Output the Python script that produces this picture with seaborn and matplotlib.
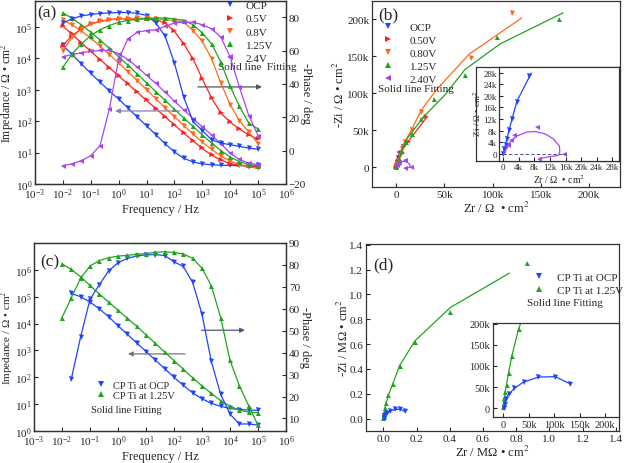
import numpy as np
import matplotlib
matplotlib.use('Agg')
import matplotlib.pyplot as plt
from matplotlib.lines import Line2D
import seaborn as sns

sns.set_style('ticks')
plt.rcParams['font.family'] = ['Liberation Serif', 'DejaVu Serif']
plt.rcParams['mathtext.fontset'] = 'stix'

BLUE, RED, ORANGE, GREEN, PURPLE = '#1f44ff', '#ff1f1f', '#ff6a1a', '#1fa51f', '#a845f0'
MS, LW = 3.6, 0.9
TICK_FS, LABEL_FS, LEG_FS = 8, 9, 8

# ---------------- data ----------------
# frequency grid of the Bode plots (Hz)
freq = [0.01, 0.0215, 0.0464, 0.1, 0.215, 0.464, 1, 2.15, 4.64, 10, 21.5, 46.4,
        100, 215, 464, 1000, 2150, 4640, 10000, 21500, 46400, 100000]
decades = [1e-3, 1e-2, 1e-1, 1e0, 1e1, 1e2, 1e3, 1e4, 1e5, 1e6]

# panel (a): log10 |Z| (ohm cm2) and -phase (deg)
a_ocp_logz = [4.42, 4.12, 3.82, 3.52, 3.24, 2.96, 2.70, 2.42, 2.13, 1.85, 1.57, 1.28,
              1.02, 0.82, 0.70, 0.64, 0.61, 0.60, 0.59, 0.59, 0.59, 0.59]
a_ocp_phase = [76.6, 79, 80.8, 81.6, 82.2, 82.6, 82.8, 82.8, 82.3, 81, 76.5, 68.5,
               52.5, 32, 17.5, 12, 6.5, 4.5, 3.6, 2.5, 1.5, 0.8]
a_05_logz = [5.02, 4.76, 4.49, 4.22, 3.96, 3.70, 3.44, 3.18, 2.92, 2.66, 2.40, 2.14,
             1.88, 1.62, 1.37, 1.13, 0.92, 0.76, 0.65, 0.59, 0.56, 0.55]
a_05_phase = [63, 69, 73, 76, 77.5, 78.5, 79, 79, 79, 79, 78.5, 76.5,
              71.5, 64, 55, 43, 31.5, 22.5, 17, 12.8, 9.5, 6.7]
a_08_logz = [5.22, 5.06, 4.87, 4.64, 4.39, 4.12, 3.85, 3.57, 3.29, 3.00, 2.71, 2.42,
             2.14, 1.86, 1.59, 1.33, 1.10, 0.89, 0.73, 0.62, 0.55, 0.50]
a_08_phase = [60, 68, 73, 76, 77.5, 78.5, 79, 79.2, 79.3, 79.3, 79, 78.5,
              78, 77, 72, 65.5, 55, 40.5, 27.5, 18, 11, 4.2]
a_125_logz = [5.45, 5.27, 5.06, 4.83, 4.58, 4.32, 4.05, 3.78, 3.50, 3.22, 2.94, 2.66,
              2.38, 2.10, 1.83, 1.56, 1.30, 1.06, 0.86, 0.71, 0.62, 0.57]
a_125_phase = [50, 58, 64, 69, 72.5, 75, 77, 78, 78.8, 79.3, 79.5, 79.5,
               79, 78, 75.5, 70.5, 64, 53, 38.5, 26.5, 16.5, 13]
a_24_logz = [4.05, 4.12, 4.18, 4.22, 4.25, 4.25, 4.15, 3.96, 3.72, 3.46, 3.20, 2.92,
             2.64, 2.36, 2.08, 1.82, 1.56, 1.28, 0.98, 0.78, 0.66, 0.62]
a_24_phase = [-9, -8, -6, -3, 3, 25, 55, 67, 71, 72, 72.5, 74.5,
              76.5, 77, 77, 75.5, 73, 68, 56, 38, 21, 9]
a_labels = ['OCP', '0.5V', '0.8V', '1.25V', '2.4V']

# panel (b): Nyquist, kOhm cm2 (markers and fitted lines)
b_ocp_zr = [0, 0.3, 0.7, 1.0, 1.5, 2.3, 3.4, 6.7]
b_ocp_zi = [0, 1.7, 3.1, 5.2, 8.1, 12.1, 17.9, 26.9]
b_ocp_fit_zr = [0, 1.5, 3.5, 7.2]
b_ocp_fit_zi = [0, 8.3, 18.2, 27.9]
b_05_zr = [0, 0.5, 2, 5.5, 12, 31.4]
b_05_zi = [0, 2, 8, 19, 33.8, 67.6]
b_05_fit_zr = [0, 5, 12, 31]
b_05_fit_zi = [0, 20, 33.8, 66]
b_08_zr = [0, 0.3, 1, 2, 3.5, 6, 9, 16, 26, 77.6, 120]
b_08_zi = [0, 1, 4, 8, 15, 24, 33.8, 50.5, 74, 147, 208]
b_08_fit_zr = [0, 6.9, 16.2, 25.9, 42, 75.9, 130.3]
b_08_fit_zi = [0, 29, 51, 76.6, 105, 153, 201.8]
b_125_zr = [0, 0.2, 1, 3, 6, 10, 16, 26.2, 39.7, 71.4, 105, 169]
b_125_zi = [0, 1, 4, 11, 22, 33.8, 45, 65.3, 92.3, 124.8, 175.7, 200]
b_125_fit_zr = [0, 10, 27.6, 50, 71.4, 108, 173]
b_125_fit_zi = [0, 36, 66.7, 96.8, 132, 166.7, 208.6]
b_24_zr = [1.2, 2.1, 2.8, 8.7, 15.6, 9.2]
b_24_zi = [2.9, 4.8, 6.6, 9.4, 0, -1.7]
b_24_fit_zr = [0, 0.44, 1.7, 3.4, 6.0, 8.1, 10.7, 12.8, 14.4, 14.5, 14.1, 12.4, 10.3, 9.4]
b_24_fit_zi = [0, 0.58, 4.0, 6.1, 7.5, 7.7, 6.9, 5.2, 2.7, 0.6, -0.6, -0.9, -1.4, -1.5]
b_labels = ['OCP', '0.50V', '0.80V', '1.25V', '2.40V']
b_ticks = [0, 50, 100, 150, 200]
b_tick_labels = ['0', '50k', '100k', '150k', '200k']
b_inset_ticks = [0, 4, 8, 12, 16, 20, 24, 28]
b_inset_tick_labels = ['0', '4k', '8k', '12k', '16k', '20k', '24k', '28k']

# panel (c): log10 |Z| and -phase for CP Ti
c_ocp_logz = [np.nan, 5.12, 5.00, 4.80, 4.55, 4.25, 3.92, 3.60, 3.28, 2.96, 2.64, 2.32,
              2.00, 1.70, 1.42, 1.20, 1.03, 0.92, 0.84, 0.80, 0.78, 0.77]
c_ocp_phase = [np.nan, 28, 47.3, 64.3, 71, 77.3, 81, 83, 84.1, 84.6, 84.7, 84.3,
               81.4, 79.3, 72, 57.5, 36, 21, 12, 7.5, 7.5, 7]
c_125_logz = [6.22, 6.02, 5.74, 5.42, 5.10, 4.80, 4.50, 4.20, 3.90, 3.58, 3.26, 2.94,
              2.62, 2.30, 1.98, 1.68, 1.40, 1.13, 0.92, 0.78, 0.70, 0.68]
c_125_phase = [56, 65, 74, 79.5, 82, 83.3, 84, 84.4, 84.8, 85.2, 85.8, 86,
               85.7, 85, 83, 78.5, 70.5, 56, 36.5, 25, 15.8, 7]
c_labels = ['CP Ti at OCP', 'CP Ti at 1.25V']

# panel (d): Nyquist, kOhm cm2
d_ocp_zr = [0.7, 3, 5.2, 10.5, 21.6, 40, 69, 102, 131]
d_ocp_zi = [0.8, 8.7, 20.6, 32.5, 46.8, 62, 73.8, 74.6, 58]
d_125_zr = [0, 0.7, 2, 3.9, 7.2, 10.5, 17, 30, 56, 97, 191, 404, 865]
d_125_zi = [3, 12.7, 24.6, 38, 56, 84, 124, 187, 277, 425, 618, 855, 1253]
d_125_fit_zr = [0, 3.9, 10.5, 17, 30, 56, 97, 190, 404, 760]
d_125_fit_zi = [0, 38, 84, 124, 187, 277, 425, 626, 895, 1172]
d_ticks = [0.0, 0.2, 0.4, 0.6, 0.8, 1.0, 1.2, 1.4]
d_inset_ticks = [0, 50, 100, 150, 200]
d_inset_tick_labels = ['0', '50k', '100k', '150k', '200k']

# ---------------- helpers ----------------
def curve(ax, x, y, color, marker=None, line=True, ms=MS):
    sns.lineplot(x=x, y=y, ax=ax, color=color, marker=marker, markersize=ms,
                 markeredgewidth=0, linewidth=LW if line else 0,
                 estimator=None, sort=False)


def style(ax, size=TICK_FS, pad=2):
    ax.tick_params(direction='in', length=3, width=0.8, labelsize=size, pad=pad)
    for s in ax.spines.values():
        s.set_linewidth(0.9)
        s.set_color('#333333')


def ylabel(ax, text, xpos, size=LABEL_FS, rotation=90):
    # label centred at an axes-fraction x position
    ax.set_ylabel(text, fontsize=size, rotation=rotation, va='center', ha='center')
    ax.yaxis.set_label_coords(xpos, 0.5)


def handle(color, marker):
    return Line2D([], [], color=color, marker=marker, linestyle='none',
                  markersize=4.5, markeredgewidth=0)


def arrow(ax, x0, x1, y, color):
    ax.annotate('', xy=(x1, y), xytext=(x0, y), xycoords='axes fraction',
                arrowprops=dict(arrowstyle='-|>', color=color, lw=0.9,
                                mutation_scale=7, shrinkA=0, shrinkB=0))


def legend(ax, handles, labels, anchor, size=LEG_FS, textpad=0.9, spacing=0.3):
    ax.legend(handles, labels, loc='upper left', bbox_to_anchor=anchor, frameon=False,
              fontsize=size, borderpad=0, handlelength=1.0, handletextpad=textpad,
              labelspacing=spacing, borderaxespad=0)


fig = plt.figure(figsize=(6.26, 4.64), dpi=100)
W, H = 626, 464


def box(x0, x1, y0, y1):
    return [x0 / W, 1 - y1 / H, (x1 - x0) / W, (y1 - y0) / H]

# ---------------- (a) ----------------
ax_a = fig.add_axes(box(35, 286, 1.5, 185))
ax_ap = ax_a.twinx()
series_a = [(a_ocp_logz, a_ocp_phase, BLUE, 'v'), (a_05_logz, a_05_phase, RED, '>'),
            (a_08_logz, a_08_phase, ORANGE, 'v'), (a_125_logz, a_125_phase, GREEN, '^'),
            (a_24_logz, a_24_phase, PURPLE, '<')]
for logz, ph, c, m in series_a:
    curve(ax_a, freq, [10 ** v for v in logz], c, m)
    curve(ax_ap, freq, ph, c, m)
ax_a.set_xscale('log')
ax_a.set_yscale('log')
ax_a.set_xlim(1e-3, 1e6)
ax_a.set_ylim(1, 10 ** 5.84)
ax_a.set_xticks(decades)
ax_a.set_yticks(decades[3:9])
ax_ap.set_ylim(-20, 90)
ax_ap.set_yticks([-20, 0, 20, 40, 60, 80])
ax_a.minorticks_off()
ax_ap.minorticks_off()
ax_a.set_xlabel('Frequency / Hz', fontsize=LABEL_FS, labelpad=1)
ylabel(ax_a, 'Impedance / Ω • cm$^2$', -0.1096, size=8.5)
ylabel(ax_ap, '-Phase / deg', 1.08, rotation=270)
style(ax_a)
style(ax_ap)
legend(ax_a, [handle(c, m) for _, _, c, m in series_a], a_labels, (0.755, 1.0))
ax_a.text(0.73, 0.643, 'Solid line  Fitting', transform=ax_a.transAxes, fontsize=LEG_FS,
          va='center')
ax_a.text(0.01, 0.935, '(a)', transform=ax_a.transAxes, fontsize=12.5, va='center')
arrow(ax_a, 0.649, 0.904, 0.529, '#555555')
arrow(ax_a, 0.578, 0.319, 0.398, '#8a7fb8')

# ---------------- (b) ----------------
series_b = [(b_ocp_zr, b_ocp_zi, b_ocp_fit_zr, b_ocp_fit_zi, BLUE, 'v'),
            (b_05_zr, b_05_zi, b_05_fit_zr, b_05_fit_zi, RED, '>'),
            (b_08_zr, b_08_zi, b_08_fit_zr, b_08_fit_zi, ORANGE, 'v'),
            (b_125_zr, b_125_zi, b_125_fit_zr, b_125_fit_zi, GREEN, '^'),
            (b_24_zr, b_24_zi, b_24_fit_zr, b_24_fit_zi, PURPLE, '<')]
ax_b = fig.add_axes(box(372, 620, 1.7, 188))
for zr, zi, fzr, fzi, c, m in series_b:
    curve(ax_b, fzr, fzi, c)
    curve(ax_b, zr, zi, c, m, line=False)
ax_b.set_xlim(-25, 232)
ax_b.set_ylim(-27, 225)
ax_b.set_xticks(b_ticks)
ax_b.set_xticklabels(b_tick_labels)
ax_b.set_yticks(b_ticks)
ax_b.set_yticklabels(b_tick_labels)
ax_b.set_xlabel('Zr / Ω  • cm$^2$', fontsize=LABEL_FS, labelpad=1)
ylabel(ax_b, '-Zi / Ω • cm$^2$', -0.13)
style(ax_b)
legend(ax_b, [handle(s[4], s[5]) for s in series_b], b_labels, (0.044, 0.885),
       textpad=1.4)
ax_b.text(0.024, 0.531, 'Solid line Fitting', transform=ax_b.transAxes, fontsize=LEG_FS,
          va='center')
ax_b.text(0.024, 0.925, '(b)', transform=ax_b.transAxes, fontsize=12.5, va='center')

# inset: outer frame plus the plotting axes inside it
ax_bf = fig.add_axes(box(476, 619, 68, 162))
ax_bf.set_xticks([])
ax_bf.set_yticks([])
style(ax_bf)
ax_bi = fig.add_axes(box(499, 619, 68, 162))
for zr, zi, fzr, fzi, c, m in (series_b[0], series_b[4]):
    curve(ax_bi, fzr, fzi, c)
    curve(ax_bi, zr, zi, c, m, line=False)
ax_bi.hlines(0, 0, 16, colors='#5a5a8a', linestyles=(0, (3, 2)), linewidth=0.8)
ax_bi.set_xlim(-1.1, 29.7)
ax_bi.set_ylim(-2.5, 30)
ax_bi.set_xticks(b_inset_ticks)
ax_bi.set_xticklabels(b_inset_tick_labels)
ax_bi.set_yticks(b_inset_ticks)
ax_bi.set_yticklabels(b_inset_tick_labels)
ax_bi.set_xlabel('Zr / Ω  • cm$^2$', fontsize=7, labelpad=1)
ylabel(ax_bi, '-Zi / Ω • cm$^2$', -0.182, size=6.5)
style(ax_bi, 6.5, pad=1.5)

# ---------------- (c) ----------------
ax_c = fig.add_axes(box(34, 286, 244, 432))
ax_cp = ax_c.twinx()
series_c = [(c_ocp_logz, c_ocp_phase, BLUE, 'v'), (c_125_logz, c_125_phase, GREEN, '^')]
for logz, ph, c, m in series_c:
    curve(ax_c, freq, [10 ** v for v in logz], c, m)
    curve(ax_cp, freq, ph, c, m)
ax_c.set_xscale('log')
ax_c.set_yscale('log')
ax_c.set_xlim(1e-3, 1e6)
ax_c.set_ylim(1, 1e7)
ax_c.set_xticks(decades)
ax_c.set_yticks(decades[3:])
ax_cp.set_ylim(4.3, 90)
ax_cp.set_yticks([10, 20, 30, 40, 50, 60, 70, 80, 90])
ax_c.minorticks_off()
ax_cp.minorticks_off()
ax_c.set_xlabel('Frequency / Hz', fontsize=LABEL_FS, labelpad=1)
ylabel(ax_c, 'Impedance / Ω • cm$^2$', -0.107, size=8)
ylabel(ax_cp, '-Phase / deg', 1.075, rotation=270)
style(ax_c)
style(ax_cp)
ax_c.tick_params(axis='y', pad=1.5)
legend(ax_c, [handle(c, m) for _, _, c, m in series_c], c_labels, (0.246, 0.27),
       size=7.5, textpad=0.6, spacing=0.1)
ax_c.text(0.225, 0.117, 'Solid line Fitting', transform=ax_c.transAxes, fontsize=7.5,
          va='center')
ax_c.text(0.024, 0.904, '(c)', transform=ax_c.transAxes, fontsize=12.5, va='center')
arrow(ax_c, 0.599, 0.373, 0.41, '#777777')
arrow(ax_c, 0.665, 0.837, 0.536, '#555577')

# ---------------- (d) ----------------
ax_d = fig.add_axes(box(366, 619, 245, 432))
curve(ax_d, [v / 1000 for v in d_125_fit_zr], [v / 1000 for v in d_125_fit_zi], GREEN)
curve(ax_d, [v / 1000 for v in d_125_zr], [v / 1000 for v in d_125_zi], GREEN, '^', line=False)
curve(ax_d, [v / 1000 for v in d_ocp_zr], [v / 1000 for v in d_ocp_zi], BLUE, 'v')
ax_d.set_xlim(-0.105, 1.42)
ax_d.set_ylim(-0.1, 1.406)
ax_d.set_xticks(d_ticks)
ax_d.set_yticks(d_ticks)
ax_d.set_xticklabels([f'{t:.1f}' for t in d_ticks])
ax_d.set_yticklabels([f'{t:.1f}' for t in d_ticks])
ax_d.set_xlabel('Zr / MΩ • cm$^2$', fontsize=LABEL_FS, labelpad=1)
ylabel(ax_d, '-Zi / MΩ • cm$^2$', -0.09)
style(ax_d)
legend(ax_d, [handle(BLUE, 'v'), handle(GREEN, '^')], c_labels, (0.66, 0.85),
       textpad=1.2, spacing=0.3)
ax_d.text(0.638, 0.686, 'Solid line Fitting', transform=ax_d.transAxes, fontsize=LEG_FS,
          va='center')
ax_d.text(0.028, 0.893, '(d)', transform=ax_d.transAxes, fontsize=12.5, va='center')

ax_di = fig.add_axes(box(493, 619, 324, 418))
curve(ax_di, d_125_fit_zr, d_125_fit_zi, GREEN)
curve(ax_di, d_125_zr, d_125_zi, GREEN, '^', line=False)
curve(ax_di, d_ocp_zr, d_ocp_zi, BLUE, 'v')
ax_di.set_xlim(-20, 227)
ax_di.set_ylim(-21, 202)
ax_di.set_xticks(d_inset_ticks)
ax_di.set_xticklabels(d_inset_tick_labels)
ax_di.set_yticks(d_inset_ticks)
ax_di.set_yticklabels(d_inset_tick_labels)
style(ax_di, 7.5)

fig.savefig('out.png', dpi=100)
